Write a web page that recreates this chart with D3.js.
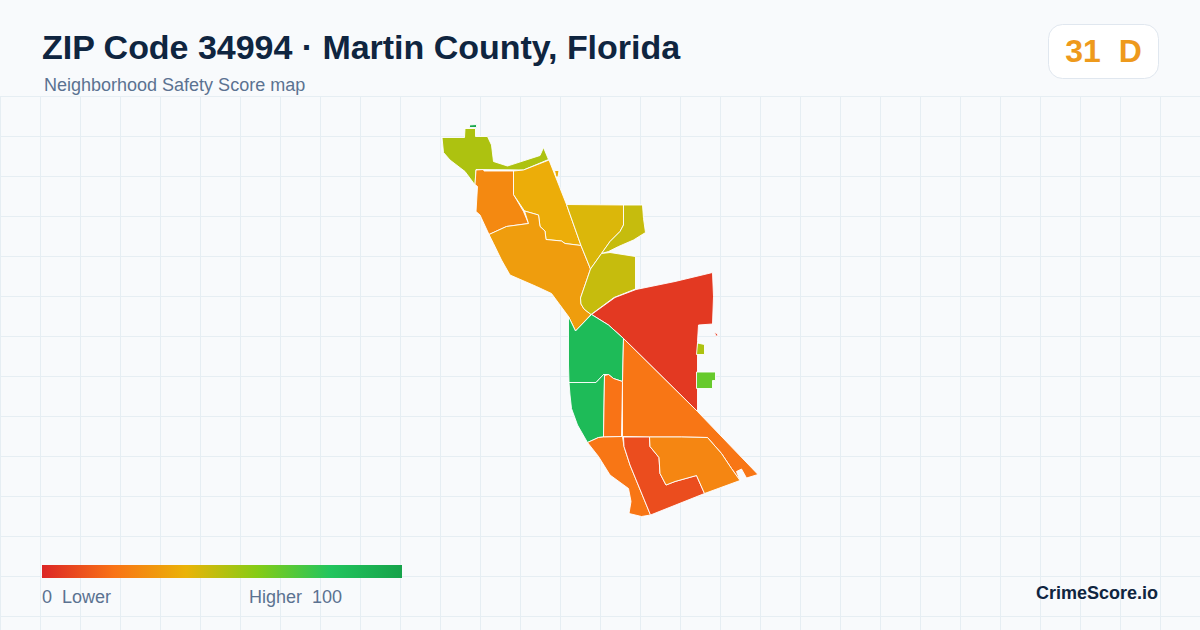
<!DOCTYPE html>
<html>
<head>
<meta charset="utf-8">
<title>ZIP Code 34994</title>
<script src="https://cdn.jsdelivr.net/npm/d3@7"></script>
<style>
html, body { margin: 0; padding: 0; background: #f8fafc; }
svg { display: block; }
text { font-family: "Liberation Sans", Arial, sans-serif; white-space: pre; }
</style>
</head>
<body>
<div id="body"></div>
<script>
// score scale stops
var scoreStops = [0, 20, 40, 60, 80, 100];
var stopColors = ["#dc2626", "#f97316", "#eab308", "#84cc16", "#22c55e", "#16a34a"];

// neighborhood outlines, in map units
var tractLimeNorth = [[2,17.5],[24.5,17.5],[25,8.5],[35.5,8.5],[35.5,16.5],[47.5,16.5],[51.5,25],[53.5,41.5],[67.5,46],[100,35.5],[103.5,27.5],[108.5,39.5],[83.5,50],[36,49.5],[35,65],[25,51.5],[10,40],[3.5,32.5]];
var tractTealSliver = [[29.5,5],[36.5,4.5],[36.5,7.5],[29.5,7.5]];
var tractOrangeNorth = [[36,50],[43.5,49.5],[44,51],[73.5,51],[73.5,74.5],[83.5,91.5],[88.5,103.5],[66.5,106.5],[49,114.5],[40,95],[36,91.5],[37.5,66.5],[35,64.5]];
var tractGold = [[73.5,51],[83.5,50],[109,40],[126.5,84.5],[141,125.5],[125,123.5],[121.5,121],[106,119.5],[105,111],[100,106.5],[98.5,95],[84.5,91],[73.5,74.5]];
var tractGoldSpeck = [[114.5,50.5],[119,50.5],[118,57],[116,57]];
var tractAmber = [[49,114.5],[66.5,106.5],[88.5,103.5],[84.5,91],[98.5,95],[100,106.5],[105,111],[106,119.5],[121.5,121],[125,123.5],[141,125.5],[150.5,149],[145,165],[140.5,178],[141,184],[144,189],[151,194.5],[135.5,211],[128.5,196.5],[111.5,173.5],[96.5,166.5],[70,155],[61.5,140],[53.5,123.5]];
var tractYellow = [[126.5,84.5],[183.5,85],[183.5,105],[180,111.5],[170,121.5],[161.5,133.5],[150.5,149],[141,125.5]];
var tractOliveEast = [[183.5,85],[202.5,85],[203.5,98.5],[205.5,112.5],[193.5,120],[178.5,126.5],[168.5,131.5],[161.5,133.5],[170,121.5],[180,111.5],[183.5,105]];
var tractOliveSouth = [[170,132.5],[195.5,136.5],[195.5,169],[174,177.5],[151,194.5],[144,189],[141,184],[140.5,178],[145,165],[150.5,149],[161.5,133.5]];
var tractRedEast = [[151.5,194.5],[175,177.5],[196,169.5],[235,161.5],[272.5,152.5],[273.5,176.5],[272.5,204],[258.5,205],[257.5,221.5],[257.5,291.5],[183.5,218.5],[168.5,205]];
var tractRedSpeck = [[274.5,212.5],[277,213.5],[278,216],[276,216]];
var tractLimeSmall = [[257.5,223],[264.5,224.5],[264.5,234.5],[256.5,234.5]];
var tractGreenSmall = [[256.5,252],[275.5,252],[275.5,260.5],[272.5,260.5],[272.5,268.5],[256.5,268.5]];
var tractGreenNorth = [[128.5,196.5],[135.5,211],[151.5,194.5],[168.5,205],[183.5,218.5],[182.5,261.5],[173.5,258.5],[168.5,254.5],[163.5,254.5],[156,262.5],[129,262.5],[128.5,245]];
var tractGreenSouth = [[129,262.5],[156,262.5],[163.5,254.5],[164.5,255.5],[163.5,317],[158.5,317.5],[147.5,322.5],[137.5,305],[131.5,288.5],[130,275]];
var tractOrangeNarrow = [[164.5,255.5],[168.5,254.5],[173.5,258.5],[182.5,261.5],[181.5,316.5],[163.5,317]];
var tractOrangeBig = [[183.5,218.5],[257.5,291.5],[318,354.5],[306.5,358],[301.5,349],[296.5,351.5],[300,360.5],[291.5,348.5],[281.5,333.5],[267.5,317.5],[241.5,317],[209.5,317],[182.5,316.5],[182.5,261.5]];
var tractOrangeWest = [[147.5,322.5],[158.5,317.5],[163.5,317],[182.5,316.5],[184,326.5],[190,345],[210.5,395],[201.5,396.5],[189,393.5],[191,381.5],[188.5,368.5],[170,355],[158.5,336.5]];
var tractRedOrange = [[183.5,317],[209.5,317],[210,326.5],[219,337.5],[220,353.5],[226,365],[235,361.5],[256.5,355.5],[264.5,373.5],[210.5,395],[190,345],[184,326.5]];
var tractAmberSouth = [[209.5,317],[241.5,317],[267.5,317.5],[281.5,333.5],[291.5,348.5],[300,360.5],[264.5,373.5],[256.5,355.5],[235,361.5],[226,365],[220,353.5],[219,337.5],[210,326.5]];

var tractRings = [tractLimeNorth, tractTealSliver, tractOrangeNorth, tractGold, tractGoldSpeck, tractAmber, tractYellow, tractOliveEast, tractOliveSouth, tractRedEast, tractRedSpeck, tractLimeSmall, tractGreenSmall, tractGreenNorth, tractGreenSouth, tractOrangeNarrow, tractOrangeBig, tractOrangeWest, tractRedOrange, tractAmberSouth];
var tractScores = [52, 98, 27, 38, 38, 33, 43, 47, 47, 5, 5, 52, 66, 86, 86, 20, 21, 21, 10, 26];

var titleText = "ZIP Code 34994 · Martin County, Florida";
var subtitleText = "Neighborhood Safety Score map";
var badgeText = "31  D";
var legendLow = "0  Lower";
var legendHigh = "Higher  100";
var brandText = "CrimeScore.io";

var width = 1200,
    height = 630,
    gridTop = 96,
    gridStep = 40;

var svg = d3.select("#body").append("svg")
    .attr("width", width)
    .attr("height", height);

svg.append("rect")
    .attr("width", width)
    .attr("height", height)
    .attr("fill", "#f8fafc");

// background grid
var grid = svg.append("g")
    .attr("stroke", "#e6eef3")
    .attr("stroke-width", 1);

grid.selectAll("line.v")
    .data(d3.range(0, width, gridStep))
    .enter().append("line")
    .attr("class", "v")
    .attr("x1", d => d + 0.5)
    .attr("x2", d => d + 0.5)
    .attr("y1", gridTop)
    .attr("y2", height);

grid.selectAll("line.h")
    .data(d3.range(gridTop, height, gridStep))
    .enter().append("line")
    .attr("class", "h")
    .attr("x1", 0)
    .attr("x2", width)
    .attr("y1", d => d + 0.5)
    .attr("y2", d => d + 0.5);

// map
var color = d3.scaleLinear().domain(scoreStops).range(stopColors);
var xMap = d3.scaleLinear().domain([0, 320]).range([440, 760]);
var yMap = d3.scaleLinear().domain([0, 400]).range([120, 520]);

var path = d3.geoPath(d3.geoTransform({
    point: function(x, y) { this.stream.point(xMap(x), yMap(y)); }
}));

var tracts = tractRings.map((ring, i) => ({
    type: "Feature",
    properties: { score: tractScores[i] },
    geometry: { type: "Polygon", coordinates: [ring.concat([ring[0]])] }
}));

svg.append("g").selectAll("path")
    .data(tracts)
    .enter().append("path")
    .attr("d", path)
    .attr("fill", d => color(d.properties.score))
    .attr("stroke", "#ffffff")
    .attr("stroke-width", 0.9)
    .attr("stroke-linejoin", "round");

// header
svg.append("text")
    .attr("x", 42)
    .attr("y", 59)
    .attr("font-size", 34)
    .attr("font-weight", 700)
    .attr("letter-spacing", -0.03)
    .attr("fill", "#0f2540")
    .text(titleText);

svg.append("text")
    .attr("x", 44)
    .attr("y", 91)
    .attr("font-size", 18)
    .attr("fill", "#5b7291")
    .text(subtitleText);

// score badge
svg.append("rect")
    .attr("x", 1048.5)
    .attr("y", 24.5)
    .attr("width", 110)
    .attr("height", 54)
    .attr("rx", 14)
    .attr("fill", "#ffffff")
    .attr("stroke", "#e0e7ef");

svg.append("text")
    .attr("x", 1103.5)
    .attr("y", 62)
    .attr("text-anchor", "middle")
    .attr("font-size", 32)
    .attr("font-weight", 700)
    .attr("fill", "#ee9a1c")
    .text(badgeText);

// legend
var legendScale = d3.scaleLinear().domain([0, 100]).range([42, 402]);

var gradient = svg.append("defs").append("linearGradient")
    .attr("id", "legend-gradient");

gradient.selectAll("stop")
    .data(scoreStops)
    .enter().append("stop")
    .attr("offset", d => d + "%")
    .attr("stop-color", d => color(d));

svg.append("rect")
    .attr("x", legendScale(0))
    .attr("y", 565)
    .attr("width", legendScale(100) - legendScale(0))
    .attr("height", 13)
    .attr("fill", "url(#legend-gradient)");

svg.append("text")
    .attr("x", legendScale(0))
    .attr("y", 603)
    .attr("font-size", 18)
    .attr("fill", "#5b7291")
    .text(legendLow);

svg.append("text")
    .attr("x", 342)
    .attr("y", 603)
    .attr("text-anchor", "end")
    .attr("font-size", 18)
    .attr("fill", "#5b7291")
    .text(legendHigh);

svg.append("text")
    .attr("x", 1158)
    .attr("y", 599)
    .attr("text-anchor", "end")
    .attr("font-size", 18)
    .attr("font-weight", 700)
    .attr("fill", "#0f2540")
    .text(brandText);
</script>
</body>
</html>
